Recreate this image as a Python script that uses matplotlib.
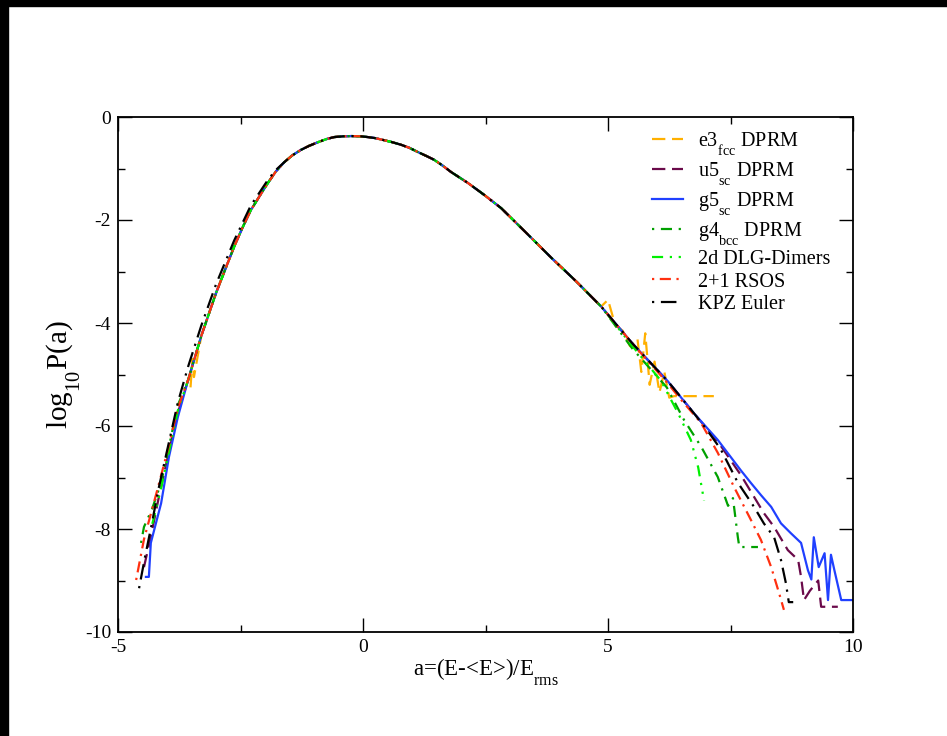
import numpy as np
import matplotlib
import matplotlib.pyplot as plt
from matplotlib.patches import Rectangle

plt.rcParams['font.family'] = ['Liberation Serif', 'DejaVu Serif']
plt.rcParams['mathtext.fontset'] = 'stix'
plt.rcParams['axes.unicode_minus'] = False
# grace-style subscripts sit lower than matplotlib's default
try:
    import matplotlib._mathtext as _mt
    _mt.FontConstantsBase.sub1 = 1.0
except Exception:
    pass

# shared body of all curves (the collapsed distribution)
a_flank = [-3.57, -3.3, -3.0, -2.8, -2.63, -2.46, -2.29, -2.1, -1.94, -1.78]
p_flank = [-5.11, -4.25, -3.42, -2.93, -2.52, -2.15, -1.81, -1.52, -1.28, -1.06]
a_body = [-1.61, -1.45, -1.27, -1.1, -0.92, -0.75, -0.59, -0.4, -0.24, -0.05, 0.1, 0.25,
          0.43, 0.6, 0.78, 0.95, 1.12, 1.3, 1.45, 1.62, 1.8, 2.14, 2.47, 2.82, 3.3, 3.84,
          4.36, 4.86]
p_body = [-0.88, -0.75, -0.64, -0.56, -0.49, -0.43, -0.39, -0.375, -0.37, -0.375, -0.39, -0.41,
          -0.45, -0.49, -0.54, -0.6, -0.68, -0.76, -0.83, -0.94, -1.07, -1.28, -1.51, -1.77,
          -2.22, -2.73, -3.2, -3.68]

# e3 fcc DPRM
a_e3_left = [-3.52, -3.48, -3.45]
p_e3_left = [-5.25, -4.7, -5.05]
a_e3_right = [5.0, 5.15, 5.3, 5.45, 5.6, 5.68, 5.76, 5.85, 5.95, 6.05, 6.15, 6.25, 6.35, 7.16]
p_e3_right = [-3.55, -4.05, -4.15, -4.45, -4.3, -4.95, -4.2, -5.2, -4.75, -5.35, -4.95, -5.45, -5.42, -5.42]

# u5 sc DPRM
a_u5_left = [-4.47, -4.33, -4.16, -3.96, -3.78]
p_u5_left = [-8.74, -8.15, -7.35, -6.5, -5.75]
a_u5_right = [5.5, 6.22, 6.76, 7.24, 7.71, 8.18, 8.39, 8.67, 8.88, 8.94, 9.0, 9.12, 9.29, 9.35, 9.69]
p_u5_right = [-4.4, -5.13, -5.76, -6.3, -6.95, -7.69, -7.96, -8.41, -8.6, -8.93, -9.38, -9.2, -9.0, -9.51, -9.51]

# g5 sc DPRM
a_g5_left = [-4.43, -4.37, -4.33, -4.12, -3.96, -3.78]
p_g5_left = [-8.93, -8.93, -8.27, -7.5, -6.6, -5.83]
a_g5_right = [5.5, 6.22, 6.76, 7.24, 7.71, 7.92, 8.12, 8.33, 8.53, 8.73, 8.94, 9.08, 9.15,
              9.2, 9.3, 9.42, 9.49, 9.55, 9.62, 9.76, 10.0]
p_g5_right = [-4.4, -5.13, -5.76, -6.27, -6.86, -7.11, -7.34, -7.57, -7.89, -8.08, -8.27, -8.8, -8.98,
              -8.16, -8.74, -8.47, -9.38, -8.5, -8.8, -9.38, -9.38]

# g4 bcc DPRM
a_g4_left = [-4.53, -4.47, -4.3, -4.12, -3.96, -3.78]
p_g4_left = [-8.27, -7.96, -7.6, -7.1, -6.4, -5.6]
a_g4_right = [5.5, 6.2, 6.55, 6.9, 7.24, 7.45, 7.55, 7.65, 7.68, 8.06]
p_g4_right = [-4.5, -5.25, -5.88, -6.4, -6.99, -7.55, -7.4, -8.16, -8.35, -8.35]

# 2d DLG-Dimers
a_dlg_left = [-4.3, -4.12, -3.96, -3.78]
p_dlg_left = [-7.9, -7.2, -6.5, -5.7]
a_dlg_right = [5.5, 6.08, 6.43, 6.69, 6.84, 6.96]
p_dlg_right = [-4.45, -5.12, -5.75, -6.27, -6.8, -7.45]

# 2+1 RSOS
a_rsos_left = [-4.63, -4.47, -4.2, -3.98, -3.78]
p_rsos_left = [-8.99, -8.2, -7.25, -6.45, -5.65]
a_rsos_right = [5.5, 6.2, 6.5, 6.9, 7.24, 7.57, 7.92, 8.12, 8.33, 8.49, 8.59]
p_rsos_right = [-4.4, -5.15, -5.5, -5.94, -6.52, -7.18, -7.83, -8.21, -8.74, -9.24, -9.57]

# KPZ Euler
a_kpz_left = [-4.57, -4.45, -4.3, -4.18, -3.98, -3.78, -3.57, -3.3, -3.0, -2.63, -2.29, -1.94, -1.78]
p_kpz_left = [-9.15, -8.55, -7.85, -7.25, -6.4, -5.55, -4.85, -4.05, -3.25, -2.4, -1.72, -1.22, -1.03]
a_kpz_right = [5.5, 6.22, 6.76, 7.0, 7.3, 7.65, 7.98, 8.18, 8.39, 8.53, 8.63, 8.69, 8.78]
p_kpz_right = [-4.4, -5.13, -5.76, -6.05, -6.45, -7.1, -7.57, -7.89, -8.16, -8.6, -9.05, -9.42, -9.42]

series = [
    ('e3$_{\\mathregular{fcc}}$ DPRM', a_e3_left + a_flank[1:] + a_body + a_e3_right,
     p_e3_left + p_flank[1:] + p_body + p_e3_right, '#FFB000', (0, (6, 3))),
    ('u5$_{\\mathregular{sc}}$ DPRM', a_u5_left + a_flank + a_body + a_u5_right,
     p_u5_left + p_flank + p_body + p_u5_right, '#6A0A4A', (0, (6, 3))),
    ('g5$_{\\mathregular{sc}}$ DPRM', a_g5_left + a_flank + a_body + a_g5_right,
     p_g5_left + p_flank + p_body + p_g5_right, '#2040FF', '-'),
    ('g4$_{\\mathregular{bcc}}$ DPRM', a_g4_left + a_flank + a_body + a_g4_right,
     p_g4_left + p_flank + p_body + p_g4_right, '#00A000', (0, (1, 3, 5, 3))),
    ('2d DLG-Dimers', a_dlg_left + a_flank + a_body + a_dlg_right,
     p_dlg_left + p_flank + p_body + p_dlg_right, '#00F000', (0, (5, 3, 1, 3, 1, 3))),
    ('2+1 RSOS', a_rsos_left + a_flank + a_body + a_rsos_right,
     p_rsos_left + p_flank + p_body + p_rsos_right, '#FF3010', (0, (1, 2.5, 5, 2.5))),
    ('KPZ Euler', a_kpz_left + a_body + a_kpz_right,
     p_kpz_left + p_body + p_kpz_right, 'black', (0, (1, 3, 7, 3))),
]

fig = plt.figure(figsize=(9.47, 7.36), dpi=100)
ax = fig.add_axes([118/947, 1-632/736, (853-118)/947, (632-117)/736])

for lab, a, p, c, ls in series:
    ax.plot(a, p, color=c, ls=ls, lw=1.6, label=lab)

ax.set_xlim(-5, 10)
ax.set_ylim(-10, 0)
ax.set_xticks([-5, 0, 5, 10])
ax.set_xticks([-2.5, 2.5, 7.5], minor=True)
ax.set_yticks([-10, -8, -6, -4, -2, 0])
ax.set_yticks([-9, -7, -5, -3, -1], minor=True)
ax.tick_params(which='both', direction='in', top=True, right=True, labelsize=14, width=1)
ax.tick_params(which='major', length=10, pad=5)
ax.tick_params(which='minor', length=5)
for sp in ax.spines.values():
    sp.set_linewidth(1.3)

ax.set_xlabel('a=(E-<E>)/E$_{\\mathregular{rms}}$', fontsize=16.5, labelpad=0)
ax.set_ylabel('log$_{\\mathregular{10}}$P(a)', fontsize=21, labelpad=2)

ax.legend(loc='upper right', bbox_to_anchor=(0.98, 0.99), frameon=False, fontsize=14.5,
          handlelength=1.55, handletextpad=0.75, labelspacing=0.15, borderaxespad=0)

# black frame strips of the original export
fig.patches.append(Rectangle((0, 1-6/736), 1, 6/736, transform=fig.transFigure, color='black'))
fig.patches.append(Rectangle((0, 0), 8/947, 1, transform=fig.transFigure, color='black'))

fig.savefig('out.png', dpi=100)
